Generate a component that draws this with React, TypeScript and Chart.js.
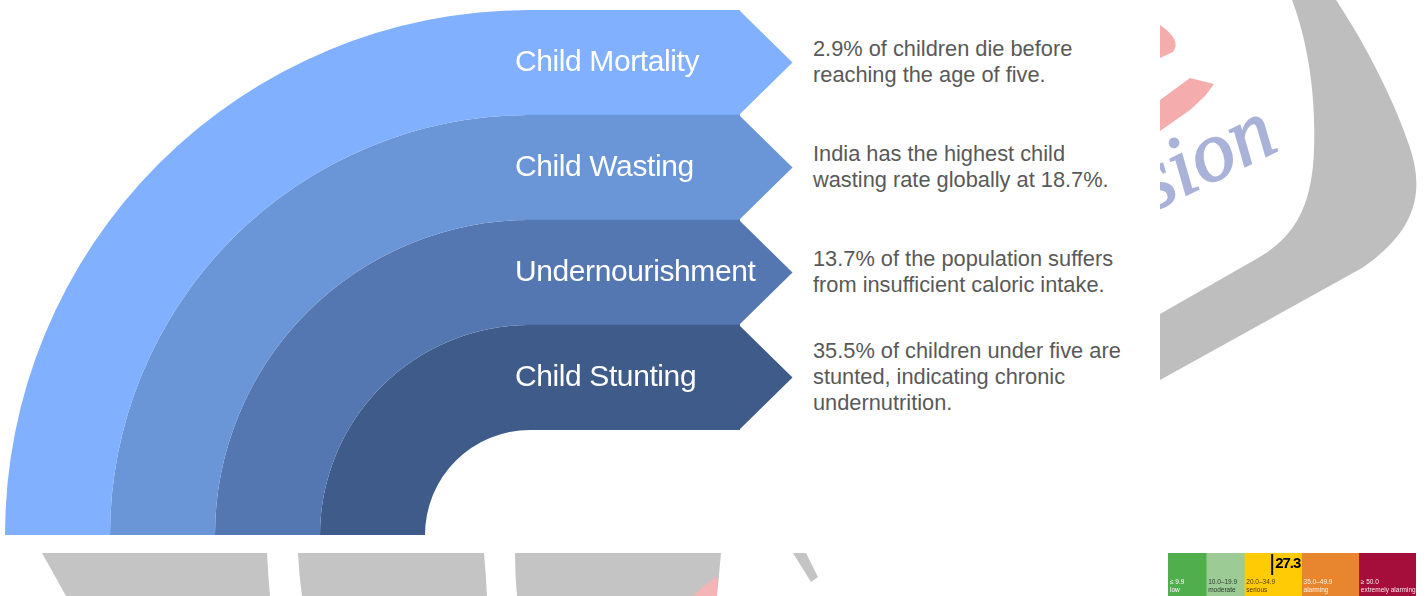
import React, { useEffect, useRef } from "react";
import { Chart, registerables } from "chart.js";

Chart.register(...registerables);

// ---------- data ----------
const categories = ["Child Mortality", "Child Wasting", "Undernourishment", "Child Stunting"];
const bandValues = [1, 1, 1, 1];
const bandColors = ["#80B0FF", "#6A95D6", "#5577B1", "#3E5B8A"];
const descriptions = [
  ["2.9% of children die before", "reaching the age of five."],
  ["India has the highest child", "wasting rate globally at 18.7%."],
  ["13.7% of the population suffers", "from insufficient caloric intake."],
  ["35.5% of children under five are", "stunted, indicating chronic", "undernutrition."],
];

const ghiRanges = ["≤ 9.9", "10.0–19.9", "20.0–34.9", "35.0–49.9", "≥ 50.0"];
const ghiNames = ["low", "moderate", "serious", "alarming", "extremely alarming"];
const ghiWidths = [10, 10, 15, 15, 15];
const ghiColors = ["#50AE4C", "#9DCB95", "#FFCB05", "#E8862F", "#A50D3B"];
const ghiTextColors = ["#ffffff", "#2b3a2b", "#4a3b00", "#fff4e6", "#fbe6ea"];
const ghiMax = 65;
const ghiScore = 27.3;

// ---------- layout constants ----------
const FONT = '"Liberation Sans", Arial, Helvetica, sans-serif';
const BAND_TOP = 10;
const BAND_H = 105;
const LEG_LEFT = 1168;
const LEG_W = 248;

const chevronPlugin = {
  id: "chevron",
  afterDatasetsDraw(chart: any) {
    const ctx = chart.ctx;
    const meta = chart.getDatasetMeta(0);
    meta.data.forEach((bar: any, i: number) => {
      const { x, y, height } = bar.getProps(["x", "y", "height"], true);
      ctx.save();
      ctx.fillStyle = bandColors[i];
      ctx.beginPath();
      ctx.moveTo(x - 1, y - height / 2);
      ctx.lineTo(x + height / 2, y);
      ctx.lineTo(x - 1, y + height / 2);
      ctx.closePath();
      ctx.fill();
      ctx.restore();
    });
  },
};

const markerPlugin = {
  id: "marker",
  afterDatasetsDraw(chart: any) {
    const ctx = chart.ctx;
    const x = chart.scales.x.getPixelForValue(ghiScore);
    ctx.save();
    ctx.strokeStyle = "#111";
    ctx.lineWidth = 2;
    ctx.beginPath();
    ctx.moveTo(x, chart.chartArea.top + 1);
    ctx.lineTo(x, chart.chartArea.top + 22);
    ctx.stroke();
    ctx.restore();
  },
};

export default function App() {
  const arcRef = useRef<HTMLCanvasElement>(null);
  const barRef = useRef<HTMLCanvasElement>(null);
  const legRef = useRef<HTMLCanvasElement>(null);

  useEffect(() => {
    const arc = new Chart(arcRef.current!, {
      type: "doughnut",
      data: {
        labels: ["band"],
        datasets: categories.map((c, i) => ({
          label: c,
          data: [bandValues[i]],
          backgroundColor: bandColors[i],
          borderWidth: 0,
        })),
      },
      options: {
        responsive: false,
        animation: false,
        rotation: -90,
        circumference: 90,
        cutout: "20%",
        layout: { padding: 0 },
        plugins: { legend: { display: false }, tooltip: { enabled: false } },
      } as any,
    });

    const bar = new Chart(barRef.current!, {
      type: "bar",
      data: {
        labels: categories,
        datasets: [
          {
            data: bandValues,
            backgroundColor: bandColors,
            borderWidth: 0,
            barPercentage: 1,
            categoryPercentage: 1,
          },
        ],
      },
      options: {
        indexAxis: "y",
        responsive: false,
        animation: false,
        layout: { padding: { left: 0, right: 60, top: 0, bottom: 0 } },
        scales: {
          x: { display: false, min: 0, max: 1 },
          y: { display: false },
        },
        plugins: { legend: { display: false }, tooltip: { enabled: false } },
      } as any,
      plugins: [chevronPlugin],
    });

    const leg = new Chart(legRef.current!, {
      type: "bar",
      data: {
        labels: ["GHI"],
        datasets: ghiWidths.map((w, i) => ({
          label: ghiNames[i],
          data: [w],
          backgroundColor: ghiColors[i],
          borderWidth: 0,
          barPercentage: 1,
          categoryPercentage: 1,
        })),
      },
      options: {
        indexAxis: "y",
        responsive: false,
        animation: false,
        layout: { padding: 0 },
        scales: {
          x: { display: false, stacked: true, min: 0, max: ghiMax },
          y: { display: false, stacked: true },
        },
        plugins: { legend: { display: false }, tooltip: { enabled: false } },
      } as any,
      plugins: [markerPlugin],
    });

    return () => {
      arc.destroy();
      bar.destroy();
      leg.destroy();
    };
  }, []);

  let cum = 0;
  const legendLefts = ghiWidths.map((w) => {
    const l = LEG_LEFT + (cum / ghiMax) * LEG_W;
    cum += w;
    return l;
  });

  return (
    <div
      style={{
        position: "absolute",
        left: 0,
        top: 0,
        width: 1428,
        height: 596,
        overflow: "hidden",
        background: "#ffffff",
        fontFamily: FONT,
      }}
    >
      <svg
        width={1428}
        height={596}
        style={{ position: "absolute", left: 0, top: 0 }}
      >
        {/* right watermark */}
        <path
          d="M1336,0 C1368,48 1396,105 1410,148 C1424,190 1418,230 1362,268 L1160,380 L1160,314 L1258,258 C1296,236 1312,205 1314,150 C1316,95 1308,42 1292,0 Z"
          fill="#BEBEBE"
        />
        <path d="M1160,25 Q1182,40 1173,52 L1160,58 Z" fill="#F5ACAC" />
        <path d="M1160,100 L1190,78 L1214,84 L1205,96 L1190,110 L1160,131 Z" fill="#F5ACAC" />
        <text
          x={1152}
          y={212}
          transform="rotate(-26 1152 212)"
          fontFamily='"Liberation Serif", "DejaVu Serif", serif'
          fontStyle="italic"
          fontSize={86}
          fill="#A9B2D8"
          stroke="#A9B2D8"
          strokeWidth={1.6}
        >
          sion
        </text>
        {/* bottom watermark */}
        <path d="M42,553 L267,553 Q268,575 270,596 L66,596 Z" fill="#C4C4C4" />
        <path d="M298,553 L484,553 Q486,575 487,596 L302,596 Q299,575 298,553 Z" fill="#C4C4C4" />
        <path d="M515,553 L721,553 Q719,575 717,596 L517,596 Q515,575 515,553 Z" fill="#C4C4C4" />
        <path d="M717,577 Q701,587 693,596 L717,596 Z" fill="#F3B5B5" />
        <path d="M793,553 L806,553 L818,577 L811,582 Z" fill="#C4C4C4" />
        {/* white page of the infographic */}
        <rect x={0} y={0} width={1160} height={553} fill="#ffffff" />
      </svg>

      <canvas
        ref={arcRef}
        width={525}
        height={525}
        style={{ position: "absolute", left: 5, top: 10, width: 525, height: 525 }}
      />
      <canvas
        ref={barRef}
        width={275}
        height={420}
        style={{ position: "absolute", left: 525, top: 10, width: 275, height: 420 }}
      />

      {categories.map((c, i) => (
        <div
          key={c}
          style={{
            position: "absolute",
            left: 515,
            top: BAND_TOP + i * BAND_H,
            height: BAND_H,
            lineHeight: "101px",
            fontSize: 30,
            letterSpacing: "-0.4px",
            color: "#ffffff",
            whiteSpace: "nowrap",
          }}
        >
          {c}
        </div>
      ))}

      {descriptions.map((lines, i) => (
        <div
          key={i}
          style={{
            position: "absolute",
            left: 813,
            top: BAND_TOP + i * BAND_H - 1,
            height: BAND_H,
            display: "flex",
            flexDirection: "column",
            justifyContent: "center",
            fontSize: 21.8,
            lineHeight: "26px",
            color: "#595959",
            whiteSpace: "nowrap",
          }}
        >
          {lines.map((l, j) => (
            <div key={j}>{l}</div>
          ))}
        </div>
      ))}

      <canvas
        ref={legRef}
        width={LEG_W}
        height={43}
        style={{ position: "absolute", left: LEG_LEFT, top: 553, width: LEG_W, height: 43 }}
      />
      {ghiRanges.map((r, i) => (
        <div
          key={r}
          style={{
            position: "absolute",
            left: legendLefts[i] + 2,
            top: 578,
            fontSize: 6.5,
            lineHeight: "8px",
            color: ghiTextColors[i],
            whiteSpace: "nowrap",
          }}
        >
          <div>{r}</div>
          <div>{ghiNames[i]}</div>
        </div>
      ))}
      <div
        style={{
          position: "absolute",
          left: LEG_LEFT + (ghiScore / ghiMax) * LEG_W + 3,
          top: 554,
          fontSize: 15,
          lineHeight: "18px",
          fontWeight: "bold",
          letterSpacing: "-1px",
          color: "#000000",
        }}
      >
        {ghiScore.toFixed(1)}
      </div>
    </div>
  );
}
